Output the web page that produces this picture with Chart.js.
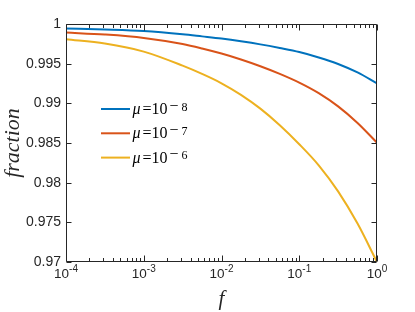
<!DOCTYPE html>
<html><head><meta charset="utf-8">
<script src="https://cdn.jsdelivr.net/npm/chart.js@4/dist/chart.umd.min.js"></script>
<style>html,body{margin:0;padding:0;background:#fff}#wrap{width:415px;height:312px}</style>
</head><body><div id="wrap"><canvas id="c" width="415" height="312"></canvas></div>
<script>
// ---- data ----
const xTickExponents = [-4, -3, -2, -1, 0];
const yTicks = [0.97, 0.975, 0.98, 0.985, 0.99, 0.995, 1];
const seriesLabels = ['μ = 10^-8', 'μ = 10^-7', 'μ = 10^-6'];
const muExponents = ['8', '7', '6'];
const seriesColors = ['#0072BD', '#D95319', '#EDB120'];

const fValues = [1e-4, 3.16e-4, 1e-3, 3.16e-3, 5.62e-3, 0.01, 0.0178, 0.0316, 0.0562, 0.1, 0.178, 0.316, 0.562, 1];
const fracMu8 = [0.99943, 0.99930, 0.99911, 0.99871, 0.99844, 0.99816, 0.99782, 0.99743, 0.99697, 0.99646, 0.99578, 0.99496, 0.99389, 0.99251];
const fracMu7 = [0.99892, 0.99867, 0.99825, 0.99748, 0.99692, 0.99628, 0.99553, 0.99468, 0.99372, 0.99262, 0.99129, 0.98962, 0.98753, 0.98504];
const fracMu6 = [0.99808, 0.99753, 0.99652, 0.99475, 0.99371, 0.99253, 0.99107, 0.98933, 0.98724, 0.98485, 0.98219, 0.97890, 0.97484, 0.97000];

const seriesY = [fracMu8, fracMu7, fracMu6];

const AXIS = '#262626';

const datasets = seriesY.map((ys, i) => ({
  label: seriesLabels[i],
  data: fValues.map((f, j) => ({x: f, y: ys[j]})),
  borderColor: seriesColors[i],
  backgroundColor: seriesColors[i],
  borderWidth: 2,
  pointRadius: 0,
  fill: false,
  cubicInterpolationMode: 'monotone'
}));

const framePlugin = {
  id: 'frame',
  afterDatasetsDraw(chart) {
    const ctx = chart.ctx, a = chart.chartArea;
    const xs = chart.scales.x, ys = chart.scales.y;
    const L = Math.round(a.left) + 0.5, R = Math.round(a.right) - 0.5;
    const T = Math.round(a.top) + 0.5, B = Math.round(a.bottom) - 0.5;
    ctx.save();
    ctx.strokeStyle = AXIS; ctx.lineWidth = 1;
    ctx.beginPath();
    ctx.rect(L, T, R - L, B - T);
    yTicks.forEach(v => {
      const y = Math.round(ys.getPixelForValue(v)) + 0.5;
      ctx.moveTo(L, y); ctx.lineTo(L + 5, y);
      ctx.moveTo(R, y); ctx.lineTo(R - 5, y);
    });
    for (let e = xTickExponents[0]; e <= xTickExponents[xTickExponents.length - 1]; e++) {
      const maxM = e === 0 ? 1 : 9;
      for (let m = 1; m <= maxM; m++) {
        const v = m * Math.pow(10, e);
        const x = Math.round(xs.getPixelForValue(v)) + 0.5;
        const len = m === 1 ? 6 : 3.5;
        ctx.moveTo(x, B); ctx.lineTo(x, B - len);
        ctx.moveTo(x, T); ctx.lineTo(x, T + len);
      }
    }
    ctx.stroke();

    // x tick labels 10^e with raised exponent
    ctx.fillStyle = AXIS; ctx.textAlign = 'left'; ctx.textBaseline = 'alphabetic';
    xTickExponents.forEach(e => {
      const px = xs.getPixelForValue(Math.pow(10, e));
      const base = '10', ex = String(e);
      ctx.font = '13.5px "Liberation Sans", Arial, sans-serif';
      const w1 = ctx.measureText(base).width;
      ctx.font = '10px "Liberation Sans", Arial, sans-serif';
      const w2 = ctx.measureText(ex).width;
      const x0 = px - (w1 + w2) / 2;
      ctx.font = '13.5px "Liberation Sans", Arial, sans-serif';
      ctx.fillText(base, x0, a.bottom + 15.5);
      ctx.font = '10px "Liberation Sans", Arial, sans-serif';
      ctx.fillText(ex, x0 + w1, a.bottom + 9.5);
    });

    // legend (no box), inside the axes
    const lx = a.left + 35, ly = a.top + 85;
    ctx.textAlign = 'left';
    chart.data.datasets.forEach((ds, i) => {
      const y = ly + i * 24.3;
      ctx.strokeStyle = ds.borderColor; ctx.lineWidth = 2;
      ctx.beginPath(); ctx.moveTo(lx, y); ctx.lineTo(lx + 29, y); ctx.stroke();
      ctx.fillStyle = '#000';
      ctx.font = 'italic 16px "Liberation Serif"';
      ctx.fillText('μ', lx + 31.5, y + 5);
      ctx.font = '16px "Liberation Serif"';
      ctx.fillText('=', lx + 41.5, y + 5);
      ctx.fillText('10', lx + 50.5, y + 5);
      ctx.fillText('−', lx + 68.5, y + 1.5);
      ctx.font = '12px "Liberation Serif"';
      ctx.fillText(muExponents[i], lx + 80.5, y + 1.7);
    });
    ctx.restore();
  }
};

new Chart(document.getElementById('c'), {
  type: 'line',
  data: { datasets },
  options: {
    responsive: false,
    animation: false,
    devicePixelRatio: 1,
    layout: { padding: { top: 24, right: 38, left: 0, bottom: 0 } },
    plugins: { legend: { display: false }, tooltip: { enabled: false } },
    scales: {
      x: {
        type: 'logarithmic', min: 1e-4, max: 1,
        grid: { display: false, drawTicks: false },
        border: { display: false },
        ticks: { display: false },
        title: { display: true, text: 'f', color: AXIS, padding: 0,
                 font: { family: 'Liberation Serif', style: 'italic', size: 21 } },
        afterFit(s) { s.height = 50; }
      },
      y: {
        type: 'linear', min: 0.97, max: 1,
        grid: { display: false, drawTicks: false },
        border: { display: false },
        afterBuildTicks(s) { s.ticks = yTicks.map(v => ({ value: v })); },
        ticks: {
          padding: 5, color: AXIS, font: { family: "'Liberation Sans', Arial, sans-serif", size: 14 },
          callback(v) { return String(Number(v.toFixed(3))); }
        },
        title: { display: true, text: 'fraction', color: AXIS, padding: 0,
                 font: { family: 'Liberation Serif', style: 'italic', size: 22 } },
        afterFit(s) { s.width = 66; }
      }
    }
  },
  plugins: [framePlugin]
});
</script>
</body></html>
